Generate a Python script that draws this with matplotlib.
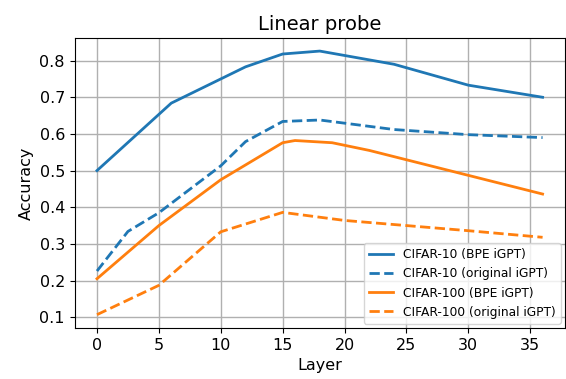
import matplotlib
matplotlib.use("Agg")
import matplotlib.pyplot as plt

# Linear probe accuracy per layer
layers_c10_bpe = [0, 6, 12, 15, 18, 24, 30, 36]
acc_c10_bpe = [0.500, 0.684, 0.783, 0.818, 0.826, 0.790, 0.733, 0.700]

layers_c10_orig = [0, 2.5, 5, 10, 12, 15, 18, 24, 30, 36]
acc_c10_orig = [0.226, 0.334, 0.385, 0.513, 0.579, 0.634, 0.638, 0.612, 0.598, 0.590]

layers_c100_bpe = [0, 5, 10, 15, 16, 19, 22, 30, 36]
acc_c100_bpe = [0.205, 0.350, 0.475, 0.576, 0.582, 0.576, 0.555, 0.487, 0.436]

layers_c100_orig = [0, 5, 10, 15, 20, 25, 30, 36]
acc_c100_orig = [0.107, 0.187, 0.333, 0.386, 0.364, 0.350, 0.336, 0.318]

plt.figure(figsize=(5.66, 3.79), dpi=100)
plt.plot(layers_c10_bpe, acc_c10_bpe, color="#1f77b4", lw=2, label="CIFAR-10 (BPE iGPT)")
plt.plot(layers_c10_orig, acc_c10_orig, color="#1f77b4", lw=2, ls="--", label="CIFAR-10 (original iGPT)")
plt.plot(layers_c100_bpe, acc_c100_bpe, color="#ff7f0e", lw=2, label="CIFAR-100 (BPE iGPT)")
plt.plot(layers_c100_orig, acc_c100_orig, color="#ff7f0e", lw=2, ls="--", label="CIFAR-100 (original iGPT)")

plt.xlabel("Layer", fontsize=11.5)
plt.ylabel("Accuracy", fontsize=11.5)
plt.title("Linear probe", fontsize=14)
plt.xticks([0, 5, 10, 15, 20, 25, 30, 35], fontsize=11.5)
plt.yticks([0.1, 0.2, 0.3, 0.4, 0.5, 0.6, 0.7, 0.8], fontsize=11.5)
plt.grid(True, color="#b0b0b0", lw=1)
plt.legend(loc="lower right", fontsize=8.8, borderaxespad=0.35)
plt.subplots_adjust(left=0.132, right=0.998, top=0.9, bottom=0.135)
plt.savefig("out.png", dpi=100)
